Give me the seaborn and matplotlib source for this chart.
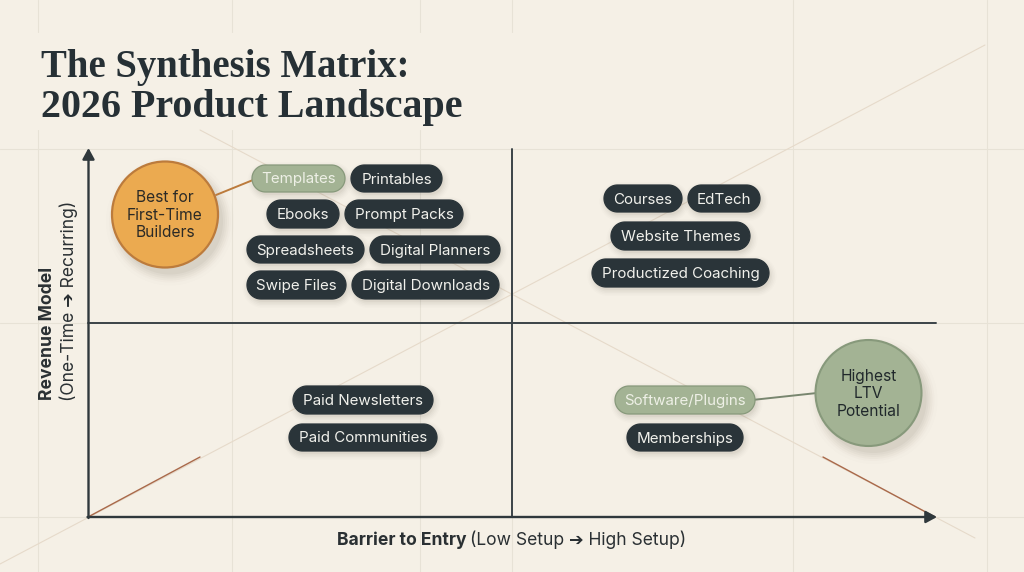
import numpy as np
import pandas as pd
import seaborn as sns
from matplotlib import pyplot as plt
from matplotlib.patches import Polygon, Circle

# chart text
title_lines = ['The Synthesis Matrix:', '2026 Product Landscape']
x_label_bold = 'Barrier to Entry'
x_label_rest = '(Low Setup ➔ High Setup)'
y_label_bold = 'Revenue Model'
y_label_rest = '(One-Time ➔ Recurring)'

# products per quadrant
low_recurring = ['Templates', 'Printables', 'Ebooks', 'Prompt Packs', 'Spreadsheets',
                 'Digital Planners', 'Swipe Files', 'Digital Downloads']
high_recurring = ['Courses', 'EdTech', 'Website Themes', 'Productized Coaching']
low_onetime = ['Paid Newsletters', 'Paid Communities']
high_onetime = ['Software/Plugins', 'Memberships']
highlighted = ['Templates', 'Software/Plugins']

# callouts
callout_best = 'Best for\nFirst-Time\nBuilders'
callout_ltv = 'Highest\nLTV\nPotential'

BG = '#F5F0E6'
DARK = '#2A3439'
SAGE = '#A3B394'
SAGE_EDGE = '#87997B'
ORANGE = '#EBAA50'
ORANGE_EDGE = '#BC7B3C'
GRID = '#E7E2D6'
DIAG = '#E6DACA'
RUST = '#A9694A'
SANS = ['Inter', 'DejaVu Sans']

# layout in picture pixels: left, right, top, bottom
chip_boxes = {
    'Templates': (252, 345, 165, 192), 'Printables': (351, 442, 165, 192),
    'Ebooks': (267, 339, 200, 228), 'Prompt Packs': (345, 463, 200, 228),
    'Spreadsheets': (247, 364, 236, 263), 'Digital Planners': (370, 500, 236, 263),
    'Swipe Files': (247, 346, 271, 299), 'Digital Downloads': (352, 499, 271, 299),
    'Courses': (604, 682, 185, 212), 'EdTech': (688, 760, 185, 212),
    'Website Themes': (611, 750, 222, 250), 'Productized Coaching': (592, 769, 259, 287),
    'Paid Newsletters': (293, 433, 386, 414), 'Paid Communities': (289, 437, 424, 451),
    'Software/Plugins': (615, 755, 386, 414), 'Memberships': (627, 743, 424, 451),
}

sns.set_theme(style='white')
plt.rcParams['font.family'] = SANS

fig = plt.figure(figsize=(10.24, 5.72), dpi=100, facecolor=BG)
ax = fig.add_axes([0, 0, 1, 1])
ax.set_xlim(0, 1024)
ax.set_ylim(572, 0)
ax.axis('off')


def line(xs, ys, color, lw, z=1):
    df = pd.DataFrame({'x': xs, 'y': ys})
    sns.lineplot(data=df, x='x', y='y', ax=ax, color=color, linewidth=lw, zorder=z,
                 estimator=None, sort=False, legend=False)


def pill(l, r, t, b, **kw):
    # stadium outline, true half circles at both ends
    rad = (b - t) / 2
    a = np.linspace(-np.pi / 2, np.pi / 2, 40)
    xs = np.r_[r - rad + rad * np.cos(a), l + rad - rad * np.cos(a)]
    ys = np.r_[(t + b) / 2 + rad * np.sin(a), (t + b) / 2 - rad * np.sin(a)]
    ax.add_patch(Polygon(np.c_[xs, ys], closed=True, **kw))


# faint background grid, broken around the title
for gx in [38, 232, 420]:
    line([gx, gx], [0, 32], GRID, 0.8)
    line([gx, gx], [130, 572], GRID, 0.8)
for gx in [793, 987]:
    line([gx, gx], [0, 572], GRID, 0.8)
line([512, 512], [0, 32], GRID, 0.8)
line([512, 512], [517, 572], GRID, 0.8)
line([0, 1024], [149, 149], GRID, 0.8)
line([936, 1024], [323, 323], GRID, 0.8)
line([0, 88], [323, 323], GRID, 0.8)
line([0, 88], [517, 517], GRID, 0.8)
line([936, 1024], [517, 517], GRID, 0.8)

# diagonals
line([0, 985], [564, 45], DIAG, 0.8, 2)
line([200, 975], [130, 538], DIAG, 0.8, 2)
line([88, 200], [517, 457], RUST, 1.0, 2)
line([823, 935], [457, 517], RUST, 1.0, 2)

# axes and quadrant lines
line([512, 512], [149, 517], '#3A4347', 1.4, 3)
line([88, 936], [323, 323], '#3A4347', 1.4, 3)
arrow = dict(arrowstyle='-|>,head_length=0.55,head_width=0.3', color='#2F383C', lw=1.7,
             shrinkA=0, shrinkB=0)
ax.annotate('', xy=(88.5, 148), xytext=(88.5, 518), arrowprops=arrow, zorder=4)
ax.annotate('', xy=(937, 517), xytext=(87.5, 517), arrowprops=arrow, zorder=4)


def chip_shadow(l, r, t, b):
    for grow, alpha in zip([6, 4.5, 3, 1.5, 0], [0.015, 0.025, 0.03, 0.04, 0.05]):
        pill(l - grow + 1.5, r + grow + 1.5, t - grow + 3, b + grow + 3,
             fc='#5B5340', ec='none', alpha=alpha, zorder=5)


def circle_shadow(cx, cy, rad):
    for grow, alpha in zip([11, 8, 6, 4, 2, 0], [0.012, 0.02, 0.03, 0.035, 0.04, 0.05]):
        ax.add_patch(Circle((cx + 5, cy + 7), rad + grow, fc='#5B5340', ec='none',
                            alpha=alpha, zorder=5))


# callout connectors, under the chips and circles
line([216, 253], [195, 180], ORANGE_EDGE, 1.4, 6)
line([752, 817], [400, 393], '#78866F', 1.4, 6)

# chips
for group in [low_recurring, high_recurring, low_onetime, high_onetime]:
    for name in group:
        l, r, t, b = chip_boxes[name]
        chip_shadow(l, r, t, b)
        on = name in highlighted
        pill(l, r, t, b, fc=SAGE if on else DARK, ec=SAGE_EDGE if on else DARK,
             lw=0.9, zorder=7)
        ax.text((l + r) / 2, (t + b) / 2 + 1, name, ha='center', va='center', fontsize=10.9,
                color='#EEF0E6' if on else '#F1F1EC', zorder=8)

# callout circles
circle_shadow(165, 214.5, 53)
ax.add_patch(Circle((165, 214.5), 53, fc=ORANGE, ec=ORANGE_EDGE, lw=1.6, zorder=7))
ax.text(165, 215, callout_best, ha='center', va='center', fontsize=11.2, color='#2B2A26',
        linespacing=1.24, zorder=8)
circle_shadow(868.5, 393, 53)
ax.add_patch(Circle((868.5, 393), 53, fc=SAGE, ec=SAGE_EDGE, lw=1.5, zorder=7))
ax.text(868.5, 394, callout_ltv, ha='center', va='center', fontsize=11.2, color='#20282B',
        linespacing=1.24, zorder=8)

# title, the two lines sized to their own widths
for txt, by, fs in zip(title_lines, [77, 117], [27.9, 28.8]):
    ax.text(41, by, txt, ha='left', va='baseline', fontsize=fs, fontweight='bold',
            family='Liberation Serif', color='#263035', zorder=8)

# axis labels
ax.text(337, 540, x_label_bold, ha='left', va='center', fontsize=12.6, fontweight='bold',
        color='#2A3033', zorder=8)
ax.text(470, 540, x_label_rest, ha='left', va='center', fontsize=12.6, color='#2A3033', zorder=8)
ax.text(47, 333, y_label_bold, rotation=90, ha='center', va='center', fontsize=12.6,
        fontweight='bold', color='#2A3033', zorder=8)
ax.text(69, 301, y_label_rest, rotation=90, ha='center', va='center', fontsize=12.6,
        color='#2A3033', zorder=8)

fig.savefig('out.png', dpi=100, facecolor=BG)
